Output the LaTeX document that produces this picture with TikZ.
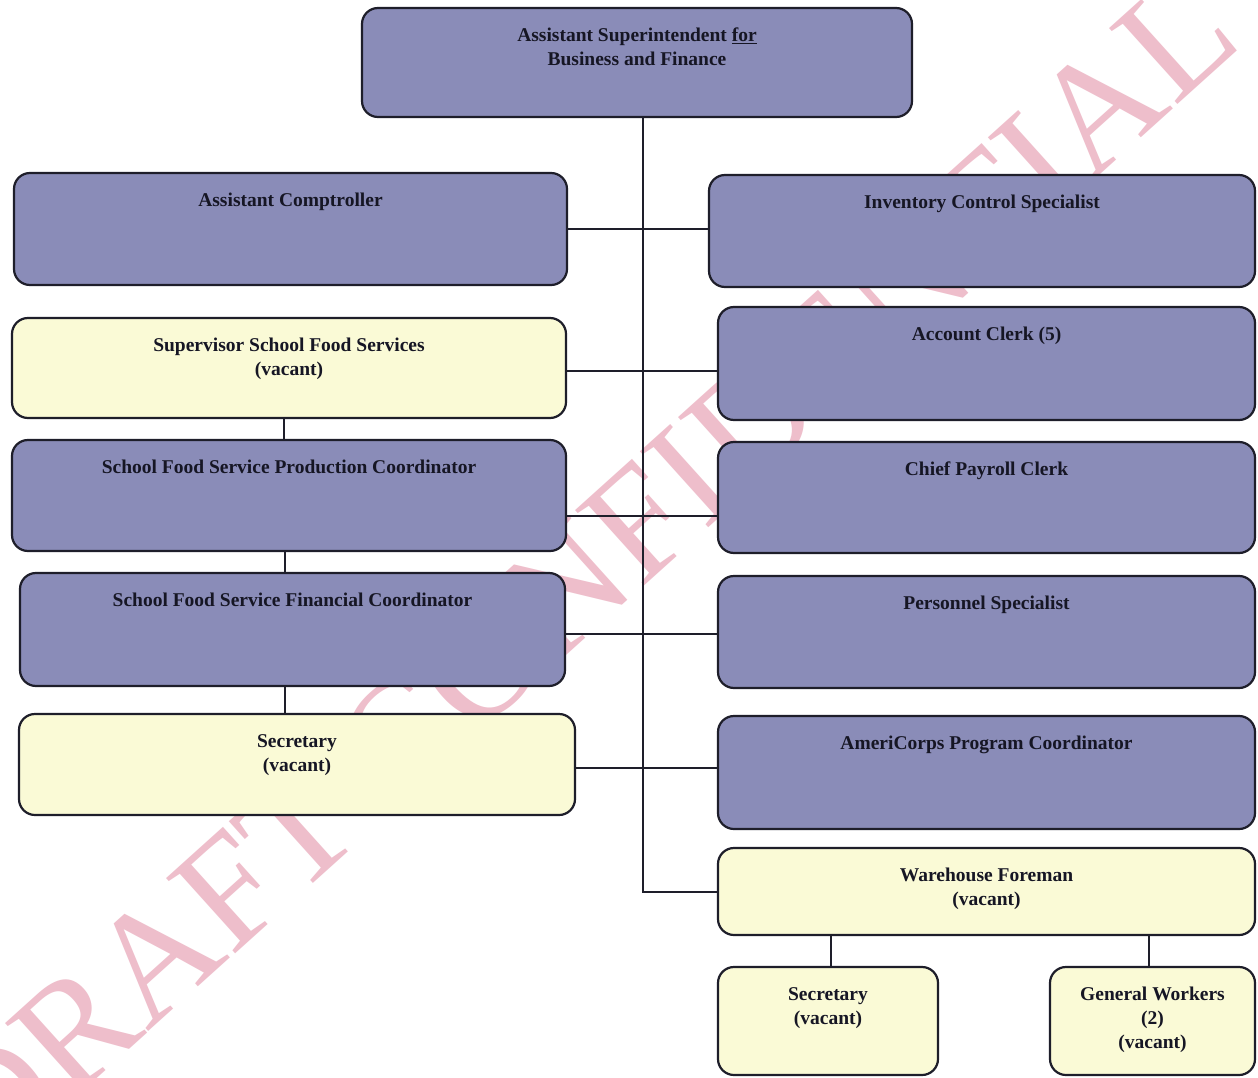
\documentclass[tikz,border=0pt]{standalone}
\usepackage{fontspec}
\setmainfont{Liberation Serif}
\definecolor{rolefill}{RGB}{138,140,184}
\definecolor{vacantfill}{RGB}{250,250,214}
\definecolor{edgeink}{RGB}{30,30,42}
\definecolor{captionink}{RGB}{22,22,36}
\definecolor{stampink}{RGB}{238,190,203}
% one org-chart card: name, style, left x, top y, width, height, caption
\newcommand\orgcard[7]{%
  \node[#2, minimum width=#5pt, minimum height=#6pt,
        label={[caption]north:#7}] (#1) at (#3,#4) {};}
\begin{document}
\begin{tikzpicture}[x=1pt,y=-1pt,
  card/.style={draw=edgeink, line width=2.2pt, rounded corners=16pt,
               inner sep=0pt, outer sep=0pt, anchor=north west},
  role/.style={card, fill=rolefill},
  vacant/.style={card, fill=vacantfill},
  caption/.style={anchor=north, inner sep=0pt, align=center, yshift=-20pt,
                  font=\fontsize{19.5}{24}\selectfont\bfseries, text=captionink},
  link/.style={draw=edgeink, line width=2pt},
  stamp/.style={text=stampink, inner sep=0pt, rotate=42,
                font=\fontsize{156}{160}\selectfont}
]
\useasboundingbox (0,0) rectangle (1258,1078);
\fill[white] (0,0) rectangle (1258,1078);

% watermark behind the chart
\node[stamp] (wm) at (582,573) {DRAFT CONFIDENTIAL};

% head of the department
\orgcard{head}{role}{362}{8}{550}{109}{Assistant Superintendent \underline{for}\\Business and Finance}

% left column
\orgcard{ac}{role}{14}{173}{553}{112}{Assistant Comptroller}
\orgcard{sup}{vacant}{12}{318}{554}{100}{Supervisor School Food Services\\(vacant)}
\orgcard{pfc}{role}{12}{440}{554}{111}{School Food Service Production Coordinator}
\orgcard{ffc}{role}{20}{573}{545}{113}{School Food Service Financial Coordinator}
\orgcard{secl}{vacant}{19}{714}{556}{101}{Secretary\\(vacant)}

% right column
\orgcard{ics}{role}{709}{175}{546}{112}{Inventory Control Specialist}
\orgcard{acc}{role}{718}{307}{537}{113}{Account Clerk (5)}
\orgcard{cpc}{role}{718}{442}{537}{111}{Chief Payroll Clerk}
\orgcard{ps}{role}{718}{576}{537}{112}{Personnel Specialist}
\orgcard{amc}{role}{718}{716}{537}{113}{AmeriCorps Program Coordinator}
\orgcard{wf}{vacant}{718}{848}{537}{87}{Warehouse Foreman\\(vacant)}
\orgcard{secr}{vacant}{718}{967}{220}{108}{Secretary\\(vacant)}
\orgcard{gw}{vacant}{1050}{967}{205}{108}{General Workers\\(2)\\(vacant)}

% main trunk down to the warehouse foreman
\coordinate (trunk) at ([xshift=6pt]head.south);
\draw[link] (trunk) |- (wf.west);

% cross links between the columns
\draw[link] (ac.east) -- (ac.east -| ics.west);
\draw[link] ([yshift=-3pt]sup.east) -- ([yshift=-3pt]sup.east -| acc.west);
\draw[link] ([yshift=-20pt]pfc.east) -- ([yshift=-20pt]pfc.east -| cpc.west);
\draw[link] ([yshift=-4pt]ffc.east) -- ([yshift=-4pt]ffc.east -| ps.west);
\draw[link] ([yshift=-3pt]secl.east) -- ([yshift=-3pt]secl.east -| amc.west);

% food service chain
\draw[link] ([xshift=-5pt]sup.south) -- ([xshift=-5pt]sup.south |- pfc.north);
\draw[link] ([xshift=-4pt]pfc.south) -- ([xshift=-4pt]pfc.south |- ffc.north);
\draw[link] ([xshift=-4pt]pfc.south |- ffc.south) -- ([xshift=-4pt]pfc.south |- secl.north);

% warehouse staff
\draw[link] ([xshift=3pt]secr.north) -- ([xshift=3pt]secr.north |- wf.south);
\draw[link] ([xshift=-4pt]gw.north) -- ([xshift=-4pt]gw.north |- wf.south);
\end{tikzpicture}
\end{document}
